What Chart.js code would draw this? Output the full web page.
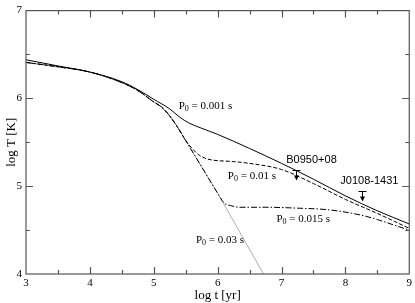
<!DOCTYPE html>
<html>
<head>
<meta charset="utf-8">
<script src="https://cdn.jsdelivr.net/npm/chart.js@4"></script>
<style>
  body { margin: 0; background: #fff; }
  canvas { display: block; }
</style>
</head>
<body>
<canvas id="coolingChart" width="415" height="303"></canvas>
<script>
// ── Data (log t [yr] vs log T [K]) ───────────────────────────────────
const ageP001 = [3, 3.5, 4, 4.5, 4.75, 5, 5.25, 5.4, 5.55, 5.75, 6, 6.5, 7, 7.5, 8, 8.5, 9];
const tempP001 = [6.44, 6.37, 6.30, 6.19, 6.10, 5.99, 5.88, 5.79, 5.72, 5.66, 5.59, 5.43, 5.26, 5.08, 4.89, 4.72, 4.57];

const ageP01 = [3, 3.5, 4, 4.5, 4.75, 5, 5.125, 5.25, 5.375, 5.5, 5.6, 5.7, 5.8, 5.9, 6.25, 6.5, 7, 7.5, 8, 8.5, 9];
const tempP01 = [6.41, 6.36, 6.30, 6.18, 6.09, 5.96, 5.90, 5.80, 5.67, 5.52, 5.43, 5.36, 5.32, 5.30, 5.28, 5.26, 5.19, 5.03, 4.85, 4.69, 4.52];

const ageP015 = [3, 3.5, 4, 4.5, 4.75, 5, 5.125, 5.25, 5.375, 5.5, 5.75, 6, 6.1, 6.2, 6.35, 6.75, 7.25, 7.75, 8.25, 8.5, 8.75, 9];
const tempP015 = [6.41, 6.36, 6.30, 6.18, 6.09, 5.96, 5.90, 5.80, 5.67, 5.52, 5.22, 4.92, 4.81, 4.78, 4.76, 4.76, 4.75, 4.73, 4.67, 4.62, 4.56, 4.50];

const ageP03 = [3, 3.5, 4, 4.5, 4.75, 5, 5.125, 5.25, 5.375, 5.5, 5.75, 6, 6.25, 6.5, 6.72];
const tempP03 = [6.41, 6.36, 6.30, 6.18, 6.09, 5.96, 5.90, 5.80, 5.67, 5.52, 5.22, 4.92, 4.60, 4.28, 4.00];

// upper limits
const pulsarNames = ['B0950+08', 'J0108-1431'];
const pulsarAge = [7.23, 8.26];
const pulsarTempLimit = [5.18, 4.94];

const xTicks = [3, 4, 5, 6, 7, 8, 9];
const yTicks = [4, 5, 6, 7];

const pts = (xs, ys) => xs.map((x, i) => ({ x, y: ys[i] }));

// ── Text labels (data coords) ────────────────────────────────────────
const curveLabels = [
  { value: '0.001 s', x: 5.39, y: 5.91 },
  { value: '0.01 s', x: 6.16, y: 5.12 },
  { value: '0.015 s', x: 6.92, y: 4.63 },
  { value: '0.03 s', x: 5.66, y: 4.39 }
];
const pulsarLabelPos = [
  { x: 7.47, y: 5.30 },
  { x: 8.375, y: 5.06 }
];

const serif = '"Liberation Serif", "Times New Roman", serif';
const sans = '"Liberation Sans", Arial, sans-serif';

// ── Plugins ──────────────────────────────────────────────────────────
const framePlugin = {
  id: 'frame',
  afterDraw(chart) {
    const { ctx, chartArea: a, scales: { x, y } } = chart;
    ctx.save();
    ctx.strokeStyle = '#555';
    ctx.lineWidth = 1.2;
    ctx.strokeRect(a.left, a.top, a.right - a.left, a.bottom - a.top);
    ctx.beginPath();
    for (let v = 3.5; v < 9; v += 0.5) {
      const px = Math.round(x.getPixelForValue(v)) + 0.5;
      const len = Number.isInteger(v) ? 7 : 4;
      ctx.moveTo(px, a.bottom); ctx.lineTo(px, a.bottom - len);
      ctx.moveTo(px, a.top); ctx.lineTo(px, a.top + len);
    }
    for (let v = 4.5; v < 7; v += 0.5) {
      const py = Math.round(y.getPixelForValue(v)) + 0.5;
      const len = Number.isInteger(v) ? 7 : 4;
      ctx.moveTo(a.left, py); ctx.lineTo(a.left + len, py);
      ctx.moveTo(a.right, py); ctx.lineTo(a.right - len, py);
    }
    ctx.stroke();
    ctx.restore();
  }
};

const labelPlugin = {
  id: 'labels',
  afterDatasetsDraw(chart) {
    const { ctx, scales: { x, y } } = chart;
    ctx.save();
    ctx.fillStyle = '#000';
    ctx.textBaseline = 'middle';

    // P0 = ... labels
    curveLabels.forEach(l => {
      let px = x.getPixelForValue(l.x);
      const py = y.getPixelForValue(l.y);
      ctx.textAlign = 'left';
      ctx.font = `11px ${serif}`;
      ctx.fillText('P', px, py);
      px += ctx.measureText('P').width;
      ctx.font = `8px ${serif}`;
      ctx.fillText('0', px, py + 3);
      px += ctx.measureText('0').width;
      ctx.font = `11px ${serif}`;
      ctx.fillText(' = ' + l.value, px, py);
    });

    // pulsar upper limits
    ctx.strokeStyle = '#000';
    ctx.lineWidth = 1;
    pulsarNames.forEach((name, i) => {
      const px = Math.round(x.getPixelForValue(pulsarAge[i])) + 0.5;
      const py = Math.round(y.getPixelForValue(pulsarTempLimit[i])) + 0.5;
      ctx.beginPath();
      ctx.moveTo(px - 4, py); ctx.lineTo(px + 4, py);
      ctx.moveTo(px, py); ctx.lineTo(px, py + 8);
      ctx.stroke();
      ctx.beginPath();
      ctx.moveTo(px - 2.5, py + 5); ctx.lineTo(px, py + 10); ctx.lineTo(px + 2.5, py + 5);
      ctx.closePath();
      ctx.fill();

      ctx.font = `11px ${sans}`;
      ctx.textAlign = 'center';
      ctx.fillText(name, x.getPixelForValue(pulsarLabelPos[i].x), y.getPixelForValue(pulsarLabelPos[i].y));
    });
    ctx.restore();
  }
};

// ── Chart ────────────────────────────────────────────────────────────
const line = (data, extra) => Object.assign({
  data,
  showLine: true,
  pointRadius: 0,
  borderWidth: 1,
  borderColor: '#000',
  cubicInterpolationMode: 'monotone',
  fill: false
}, extra);

new Chart(document.getElementById('coolingChart'), {
  type: 'scatter',
  data: {
    datasets: [
      line(pts(ageP001, tempP001), { order: 1 }),
      line(pts(ageP01, tempP01), { order: 2, borderDash: [4, 2] }),
      line(pts(ageP015, tempP015), { order: 3, borderDash: [6, 2, 1.5, 2] }),
      line(pts(ageP03, tempP03), { order: 4, borderColor: '#9a9a9a', borderWidth: 0.8 })
    ]
  },
  options: {
    responsive: false,
    animation: false,
    layout: { padding: { top: 4, right: 5, left: 0, bottom: 0 } },
    plugins: { legend: { display: false }, tooltip: { enabled: false } },
    scales: {
      x: {
        type: 'linear',
        min: 3, max: 9,
        afterBuildTicks: s => { s.ticks = xTicks.map(v => ({ value: v })); },
        afterFit: s => { s.height = 29; },
        grid: { display: false, drawTicks: false },
        border: { display: false },
        ticks: { color: '#000', padding: 3, font: { family: serif, size: 11 } },
        title: { display: true, text: 'log t [yr]', color: '#000', padding: { top: 0, bottom: 0 }, font: { family: serif, size: 13 } }
      },
      y: {
        type: 'linear',
        min: 4, max: 7,
        afterBuildTicks: s => { s.ticks = yTicks.map(v => ({ value: v })); },
        afterFit: s => { s.width = 26; },
        grid: { display: false, drawTicks: false },
        border: { display: false },
        ticks: { color: '#000', padding: 4, font: { family: serif, size: 11 } },
        title: { display: true, text: 'log T [K]', color: '#000', padding: { top: 4, bottom: 0 }, font: { family: serif, size: 13 } }
      }
    }
  },
  plugins: [framePlugin, labelPlugin]
});
</script>
</body>
</html>
